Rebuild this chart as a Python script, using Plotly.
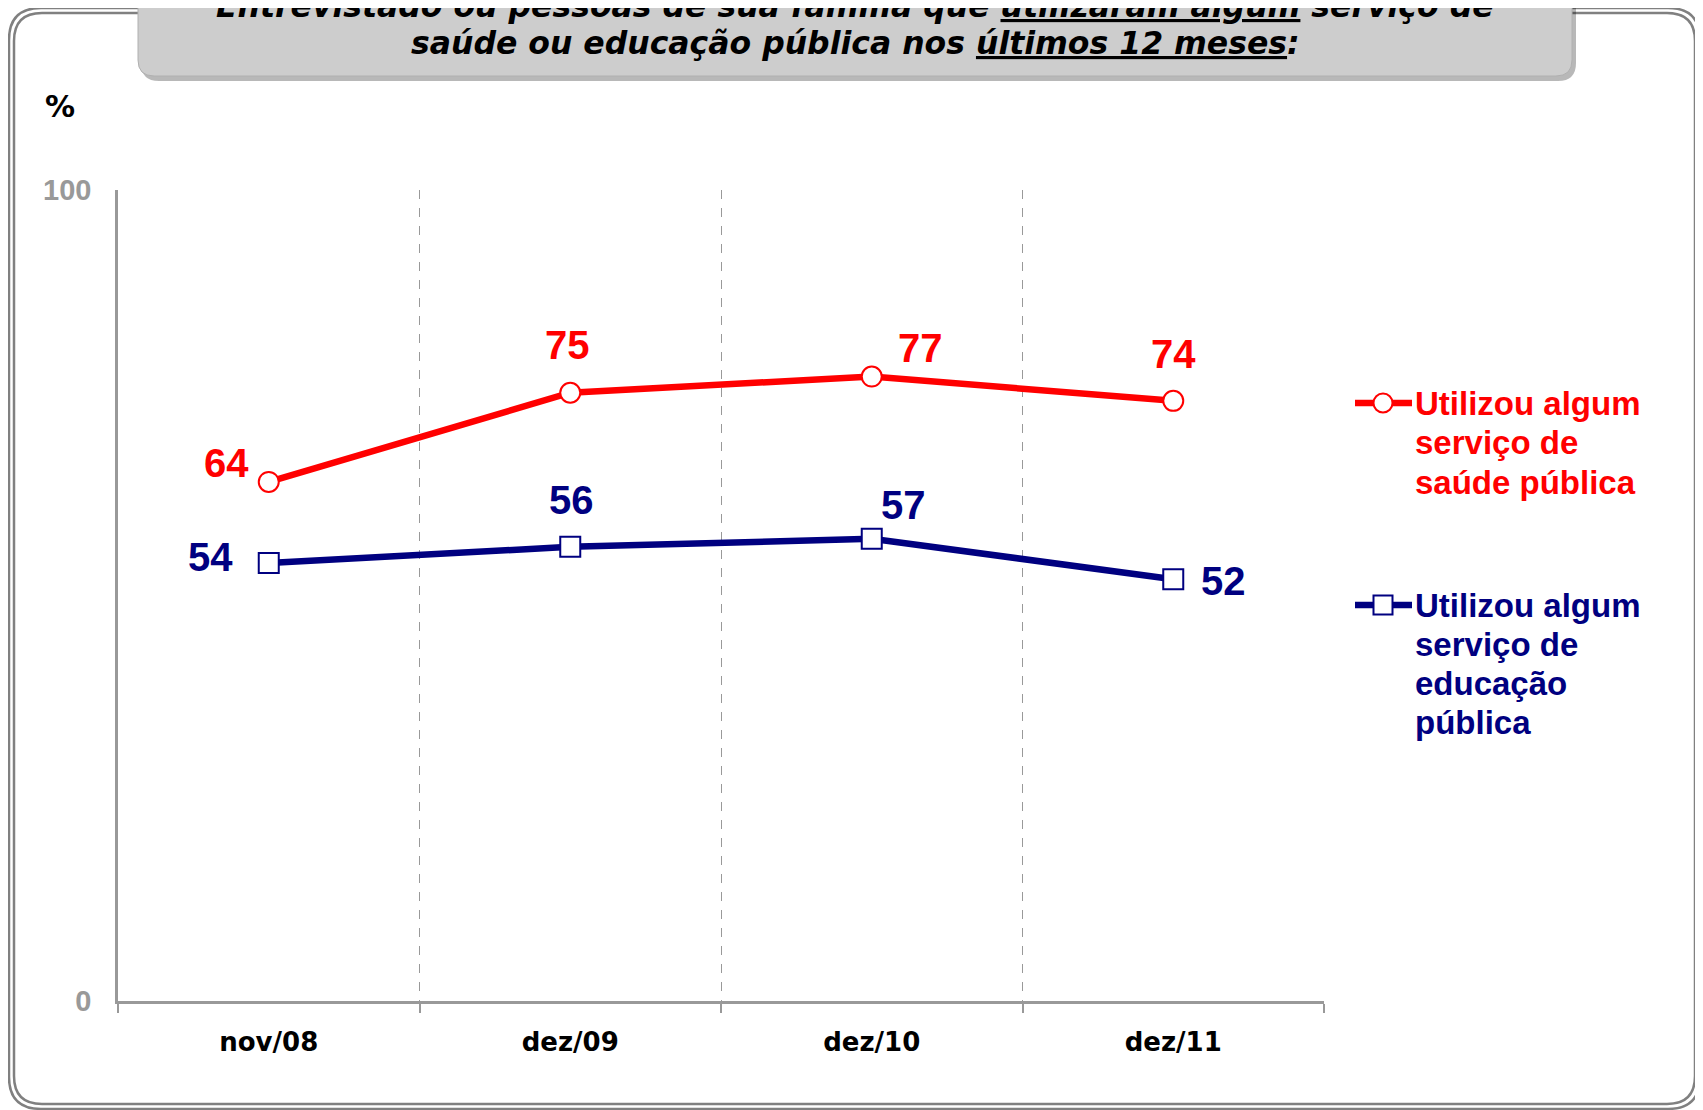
import plotly.graph_objects as go

# ---------------- data ----------------
categories = ["nov/08", "dez/09", "dez/10", "dez/11"]
saude = [64, 75, 77, 74]
educacao = [54, 56, 57, 52]
y_ticks = [0, 100]
series_names = ["Utilizou algum serviço de saúde pública",
                "Utilizou algum serviço de educação pública"]
legend_lines_saude = ["Utilizou algum", "serviço de", "saúde pública"]
legend_lines_educ = ["Utilizou algum", "serviço de", "educação", "pública"]
title_line1 = "Entrevistado ou pessoas de sua família que <u>utilizaram algum</u> serviço de"
title_line2 = "saúde ou educação pública nos <u>últimos 12 meses</u>:"

# ---------------- style / layout ----------------
W, H = 1703, 1110
OFF = 8  # page body margin
L, R, T, B = 118, 1324, 190, 1001  # plot area in page pixels
RED = "#FF0000"
NAVY = "#000080"
GRAY = "#999999"
FRAME = "#808080"

# label offsets (pixels) relative to each point
saude_shift = [(-42, 19), (-3, 48), (49, 29), (0, 47)]
educ_shift = [(-58, 6), (1, 47), (32, 34), (50, -2)]


def paper_x(p):
    return (p - OFF) / W


def paper_y(p):
    return 1 - (p - OFF) / H


def rrect(x0, y0, x1, y1, r, rtop=True):
    pts = []
    if rtop:
        pts.append(f"M {x0 + r},{y0}")
        pts.append(f"L {x1 - r},{y0}")
        pts.append(f"Q {x1},{y0} {x1},{y0 + r}")
    else:
        pts.append(f"M {x0},{y0}")
        pts.append(f"L {x1},{y0}")
    pts.append(f"L {x1},{y1 - r}")
    pts.append(f"Q {x1},{y1} {x1 - r},{y1}")
    pts.append(f"L {x0 + r},{y1}")
    pts.append(f"Q {x0},{y1} {x0},{y1 - r}")
    if rtop:
        pts.append(f"L {x0},{y0 + r}")
        pts.append(f"Q {x0},{y0} {x0 + r},{y0}")
    pts.append("Z")
    return " ".join(pts)


fig = go.Figure()

fig.add_trace(go.Scatter(
    x=categories, y=saude, mode="lines+markers", name=series_names[0],
    line=dict(color=RED, width=6.5),
    marker=dict(symbol="circle", size=20, color="white", line=dict(color=RED, width=2)),
    showlegend=False, cliponaxis=False,
))
fig.add_trace(go.Scatter(
    x=categories, y=educacao, mode="lines+markers", name=series_names[1],
    line=dict(color=NAVY, width=6.5),
    marker=dict(symbol="square", size=20, color="white", line=dict(color=NAVY, width=2)),
    showlegend=False, cliponaxis=False,
))

# legend symbols on a full-figure pixel axis (x2/y2)
leg_sym = [(403, RED, "circle"), (605, NAVY, "square")]
for yy, col, sym in leg_sym:
    fig.add_trace(go.Scatter(
        x=[1355, 1412], y=[yy, yy], xaxis="x2", yaxis="y2",
        mode="lines", line=dict(color=col, width=6.5),
        showlegend=False, hoverinfo="skip",
    ))
    fig.add_trace(go.Scatter(
        x=[1383], y=[yy], xaxis="x2", yaxis="y2",
        mode="markers",
        marker=dict(symbol=sym, size=19, color="white", line=dict(color=col, width=2)),
        showlegend=False, hoverinfo="skip",
    ))

annotations = []
label_font = dict(family="Liberation Sans, Arial, sans-serif", size=40)
for i, c in enumerate(categories):
    annotations.append(dict(x=c, y=saude[i], xref="x", yref="y", text=f"<b>{saude[i]}</b>",
                            showarrow=False, xshift=saude_shift[i][0], yshift=saude_shift[i][1],
                            font=dict(color=RED, **label_font)))
    annotations.append(dict(x=c, y=educacao[i], xref="x", yref="y", text=f"<b>{educacao[i]}</b>",
                            showarrow=False, xshift=educ_shift[i][0], yshift=educ_shift[i][1],
                            font=dict(color=NAVY, **label_font)))

leg_font = dict(family="Liberation Sans, Arial, sans-serif", size=33)
for j, t in enumerate(legend_lines_saude):
    annotations.append(dict(x=1413, y=403 + 39.5 * j, xref="x2", yref="y2",
                            xanchor="left", yanchor="middle", text=f"<b>{t}</b>", showarrow=False,
                            font=dict(color=RED, **leg_font)))
for j, t in enumerate(legend_lines_educ):
    annotations.append(dict(x=1413, y=605 + 39 * j, xref="x2", yref="y2",
                            xanchor="left", yanchor="middle", text=f"<b>{t}</b>", showarrow=False,
                            font=dict(color=NAVY, **leg_font)))

title_font = dict(family="DejaVu Sans, Verdana, sans-serif", size=31.5, color="black")
annotations.append(dict(x=paper_x(855), y=paper_y(6), xref="paper", yref="paper", xanchor="center",
                        yanchor="middle", text=f"<b><i>{title_line1}</i></b>", showarrow=False,
                        font=title_font))
annotations.append(dict(x=855, y=43, xref="x2", yref="y2", xanchor="center",
                        yanchor="middle", text=f"<b><i>{title_line2}</i></b>", showarrow=False,
                        font=title_font))
annotations.append(dict(x=60, y=106, xref="x2", yref="y2", xanchor="center",
                        yanchor="middle", text="<b>%</b>", showarrow=False,
                        font=dict(family="DejaVu Sans, sans-serif", size=30, color="black")))

shapes = [
    # outer double frame
    dict(type="path", path=rrect(9, 8, 1700, 1109, 32), xref="x2", yref="y2",
         line=dict(color=FRAME, width=2.5), layer="below"),
    dict(type="path", path=rrect(14, 13, 1695, 1104, 28), xref="x2", yref="y2",
         line=dict(color=FRAME, width=2.5), layer="below"),
    # title box shadow
    dict(type="path", path=rrect(141, -30, 1576, 81, 18, rtop=False), xref="x2", yref="y2",
         fillcolor="rgba(0,0,0,0.28)", line=dict(width=0), layer="below"),
    # title box
    dict(type="path", path=rrect(138, -30, 1572, 76, 16, rtop=False), xref="x2", yref="y2",
         fillcolor="#CDCDCD", line=dict(color="#B0B0B0", width=1), layer="below"),
]

fig.update_layout(
    width=W, height=H,
    margin=dict(l=0, r=0, t=0, b=0, pad=0, autoexpand=False),
    paper_bgcolor="white", plot_bgcolor="rgba(0,0,0,0)",
    showlegend=False,
    xaxis=dict(
        domain=[(L - OFF) / W, (R - OFF) / W], anchor="y", automargin=False,
        type="category", categoryorder="array", categoryarray=categories,
        range=[-0.5, len(categories) - 0.5],
        tickson="boundaries", ticks="outside", ticklen=9, tickwidth=1.5, tickcolor=GRAY,
        showgrid=True, gridcolor=GRAY, griddash="dash", gridwidth=1.2,
        showline=True, linecolor=GRAY, linewidth=2.5,
        tickfont=dict(family="DejaVu Sans, sans-serif", size=26, color="black", weight="bold"),
        ticklabelstandoff=16,
        zeroline=False, fixedrange=True,
    ),
    yaxis=dict(
        domain=[(H - (B - OFF)) / H, (H - (T - OFF)) / H], anchor="x", automargin=False,
        range=[0, 100], tickvals=y_ticks, ticktext=[str(v) for v in y_ticks],
        showgrid=False, zeroline=False, showline=True, linecolor=GRAY, linewidth=2.5,
        ticks="", ticklabelstandoff=18,
        tickfont=dict(family="Liberation Sans, Arial, sans-serif", size=29, color=GRAY, weight="bold"),
        fixedrange=True,
    ),
    xaxis2=dict(domain=[0, 1], range=[OFF, W + OFF], anchor="y2", visible=False,
                automargin=False, fixedrange=True),
    yaxis2=dict(domain=[0, 1], range=[H + OFF, OFF], anchor="x2", visible=False,
                automargin=False, fixedrange=True),
    annotations=annotations,
    shapes=shapes,
)

fig.write_html("out.html")
